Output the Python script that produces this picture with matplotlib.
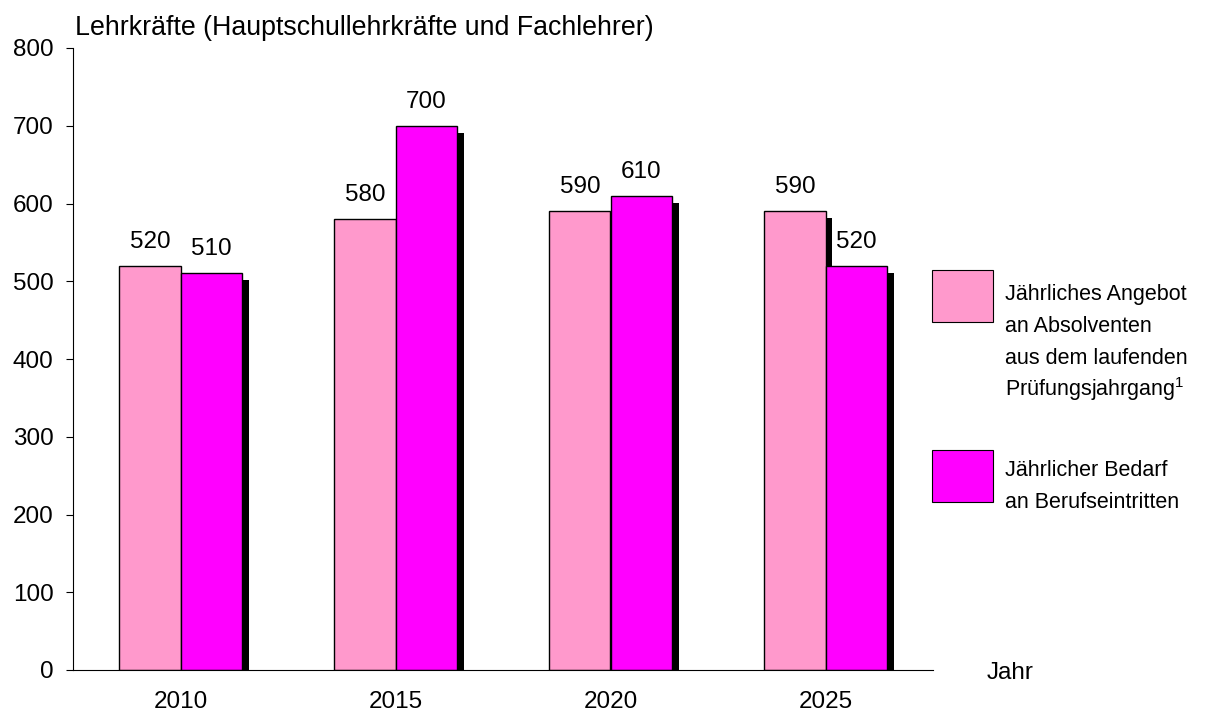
import matplotlib
matplotlib.use("Agg")
import matplotlib.pyplot as plt
import matplotlib.patheffects as pe
from matplotlib.patches import Rectangle
import numpy as np

plt.rcParams['font.family'] = ['Liberation Sans', 'DejaVu Sans']
plt.rcParams['mathtext.fontset'] = 'custom'
plt.rcParams['mathtext.rm'] = 'Liberation Sans'

# data
years = ["2010", "2015", "2020", "2025"]
angebot = [520, 580, 590, 590]
bedarf = [510, 700, 610, 520]

label_angebot = ["Jährliches Angebot", "an Absolventen", "aus dem laufenden", "Prüfungsjahrgang$^{1}$"]
label_bedarf = ["Jährlicher Bedarf", "an Berufseintritten"]

col_angebot = "#FF99CC"
col_bedarf = "#FF00FF"

W, H = 1217, 717
fig = plt.figure(figsize=(W / 100, H / 100), dpi=100)
ax = fig.add_axes([73 / W, 47 / H, (933 - 73) / W, (670 - 48) / H])

x = np.arange(len(years))
bw = 0.285
shadow = [pe.SimplePatchShadow(offset=(5, -5), shadow_rgbFace="black", alpha=1.0), pe.Normal()]

b1 = ax.bar(x - bw / 2, angebot, bw, color=col_angebot, edgecolor="black", linewidth=1.0)
for p in b1:
    p.set_path_effects(shadow)
b2 = ax.bar(x + bw / 2, bedarf, bw, color=col_bedarf, edgecolor="black", linewidth=1.0)
for p in b2:
    p.set_path_effects(shadow)

for bars, vals in ((b1, angebot), (b2, bedarf)):
    for p, v in zip(bars, vals):
        ax.annotate(str(v), (p.get_x() + p.get_width() / 2, v),
                    xytext=(0, 13), textcoords="offset points",
                    ha="center", va="baseline", fontsize=17.5)

ax.set_xlim(-0.5, 3.5)
ax.set_ylim(0, 800)
ax.set_yticks(range(0, 801, 100))
ax.set_xticks(x)
ax.set_xticklabels(years)
ax.tick_params(axis="y", length=5, width=0.8, labelsize=17.5, pad=9)
ax.tick_params(axis="x", length=0, labelsize=17.5, pad=15)
for s in ("top", "right"):
    ax.spines[s].set_visible(False)
ax.spines["left"].set_linewidth(0.8)
ax.spines["bottom"].set_linewidth(0.8)

fig.text(75 / W, 1 - 28 / H, "Lehrkräfte (Hauptschullehrkräfte und Fachlehrer)",
         fontsize=19.3, va="center", ha="left")
fig.text(987 / W, 1 - 673 / H, "Jahr", fontsize=17.5, va="center", ha="left")

# legend
legend_rows = (((270, 322), col_angebot, label_angebot, 292),
               ((450, 502), col_bedarf, label_bedarf, 468))
for (y0, y1), col, lines, ystart in legend_rows:
    fig.patches.append(Rectangle((932 / W, 1 - y1 / H), 61 / W, (y1 - y0) / H,
                                 transform=fig.transFigure, facecolor=col,
                                 edgecolor="black", linewidth=0.8))
    for i, line in enumerate(lines):
        fig.text(1005 / W, 1 - (ystart + 8 + 32 * i) / H, line, fontsize=15.5,
                 va="baseline", ha="left")

fig.savefig("out.png", dpi=100)
